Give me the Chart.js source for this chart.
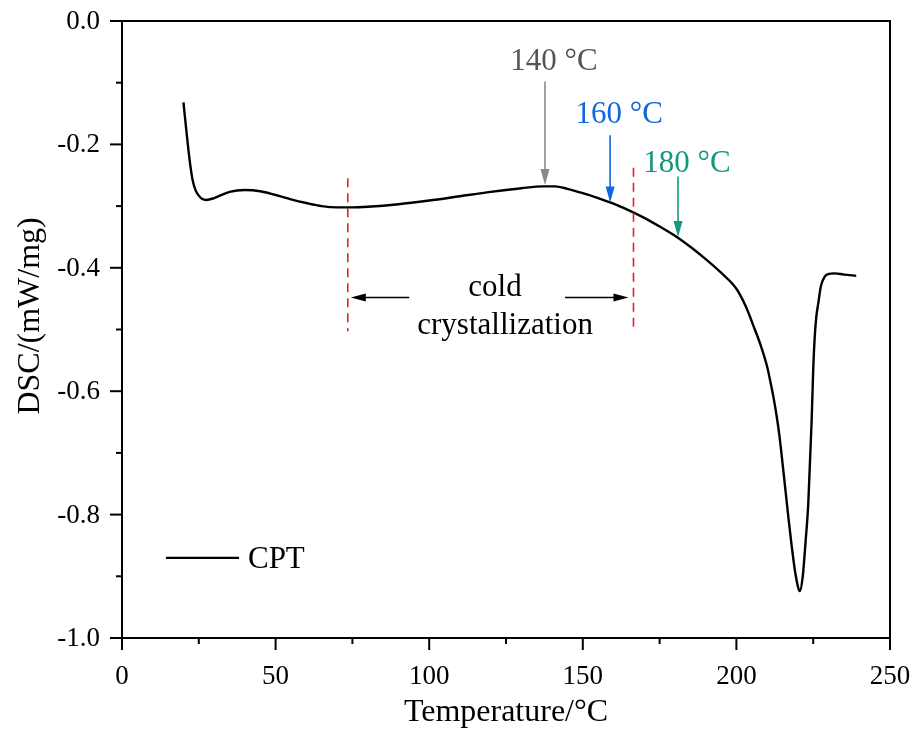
<!DOCTYPE html>
<html>
<head>
<meta charset="utf-8">
<script src="https://cdn.jsdelivr.net/npm/chart.js@4.4.1/dist/chart.umd.min.js"></script>
<style>
  html, body { margin: 0; padding: 0; background: #fff; }
  #wrap { width: 914px; height: 733px; }
</style>
</head>
<body>
<div id="wrap"><canvas id="dsc"></canvas></div>
<script>
// DSC heating curve of CPT
const temps = [20, 21, 22, 23, 24, 25, 26, 27.5, 30, 35, 40, 45, 50, 55, 60, 65, 70, 75, 80, 90,
  100, 110, 120, 130, 137, 141, 145, 150, 155, 160, 165, 170, 175, 180, 185, 190, 195, 200, 203,
  206, 208, 210, 211, 212, 213, 214, 215, 216, 217, 218, 219, 220, 220.6, 221.6, 222.5, 223.4,
  224.5, 225, 225.5, 226, 226.7, 227.5, 228.8, 230, 232, 235, 239];
const dsc = [-0.132, -0.180, -0.225, -0.258, -0.275, -0.283, -0.288, -0.290, -0.287, -0.277, -0.274,
  -0.276, -0.282, -0.289, -0.295, -0.300, -0.302, -0.302, -0.301, -0.297, -0.291, -0.284, -0.277,
  -0.271, -0.268, -0.268, -0.272, -0.279, -0.287, -0.296, -0.307, -0.319, -0.333, -0.348, -0.366,
  -0.386, -0.408, -0.434, -0.462, -0.500, -0.527, -0.560, -0.583, -0.608, -0.637, -0.672, -0.716,
  -0.762, -0.808, -0.851, -0.889, -0.916, -0.924, -0.900, -0.845, -0.782, -0.647, -0.566, -0.512,
  -0.480, -0.456, -0.430, -0.414, -0.410, -0.409, -0.411, -0.413];

// axis tick labels
const xTickLabels = [0, 50, 100, 150, 200, 250];
const yTickLabels = [0, -0.2, -0.4, -0.6, -0.8, -1.0];

// marked temperatures: label, arrow x, arrow tail / tip, text baseline, colours
const markLabels = ['140 °C', '160 °C', '180 °C'];
const markX = [137.7, 158.9, 181.0];
const markTail = [-0.098, -0.185, -0.252];
const markTip = [-0.266, -0.294, -0.350];
const markText = [-0.080, -0.165, -0.244];
const markTextColor = ['#555555', '#1167dc', '#13977d'];
const markArrowColor = ['#8a8a8a', '#1167dc', '#13977d'];

// cold crystallization window
const coldRange = [73.5, 166.5];
const coldLineTop = [-0.255, -0.238];
const coldLineBottom = -0.503;

const serif = "'Liberation Serif', 'Times New Roman', serif";

function arrowV(ctx, x, y0, y1, color) {
  ctx.strokeStyle = color;
  ctx.fillStyle = color;
  ctx.lineWidth = 1.6;
  ctx.beginPath();
  ctx.moveTo(x, y0);
  ctx.lineTo(x, y1 - 14);
  ctx.stroke();
  ctx.beginPath();
  ctx.moveTo(x, y1);
  ctx.lineTo(x - 4.5, y1 - 16);
  ctx.lineTo(x + 4.5, y1 - 16);
  ctx.closePath();
  ctx.fill();
}

function arrowH(ctx, x0, x1, y, color) {
  const dir = x1 > x0 ? 1 : -1;
  ctx.strokeStyle = color;
  ctx.fillStyle = color;
  ctx.lineWidth = 1.5;
  ctx.beginPath();
  ctx.moveTo(x0, y);
  ctx.lineTo(x1 - dir * 12, y);
  ctx.stroke();
  ctx.beginPath();
  ctx.moveTo(x1, y);
  ctx.lineTo(x1 - dir * 15, y - 4);
  ctx.lineTo(x1 - dir * 15, y + 4);
  ctx.closePath();
  ctx.fill();
}

const decor = {
  id: 'decor',
  afterDatasetsDraw(chart) {
    const { ctx, chartArea: a, scales: { x, y } } = chart;
    ctx.save();

    // frame
    ctx.strokeStyle = '#000';
    ctx.lineWidth = 2;
    ctx.strokeRect(a.left, a.top, a.right - a.left, a.bottom - a.top);

    // outward ticks, major + minor
    for (let v = 0; v <= 250; v += 25) {
      const px = x.getPixelForValue(v);
      const len = v % 50 === 0 ? 12 : 6;
      ctx.beginPath();
      ctx.moveTo(px, a.bottom);
      ctx.lineTo(px, a.bottom + len);
      ctx.stroke();
    }
    for (let i = 0; i <= 10; i++) {
      const py = y.getPixelForValue(-i / 10);
      const len = i % 2 === 0 ? 12 : 6;
      ctx.beginPath();
      ctx.moveTo(a.left, py);
      ctx.lineTo(a.left - len, py);
      ctx.stroke();
    }

    // tick labels
    ctx.fillStyle = '#000';
    ctx.font = '27px ' + serif;
    ctx.textAlign = 'center';
    ctx.textBaseline = 'alphabetic';
    xTickLabels.forEach(v => ctx.fillText(String(v), x.getPixelForValue(v), a.bottom + 46));
    ctx.textAlign = 'right';
    ctx.textBaseline = 'middle';
    yTickLabels.forEach(v => ctx.fillText(v.toFixed(1), a.left - 22, y.getPixelForValue(v) + 1));

    // axis titles
    ctx.font = '32px ' + serif;
    ctx.textAlign = 'center';
    ctx.textBaseline = 'alphabetic';
    ctx.fillText('Temperature/°C', x.getPixelForValue(125), a.bottom + 83);
    ctx.save();
    ctx.translate(a.left - 83, y.getPixelForValue(-0.478));
    ctx.rotate(-Math.PI / 2);
    ctx.fillText('DSC/(mW/mg)', 0, 0);
    ctx.restore();

    // dashed boundaries of the cold crystallization range
    ctx.strokeStyle = '#ee1c25';
    ctx.lineWidth = 1.6;
    ctx.setLineDash([9, 6]);
    coldRange.forEach((t, i) => {
      const px = x.getPixelForValue(t);
      ctx.beginPath();
      ctx.moveTo(px, y.getPixelForValue(coldLineTop[i]));
      ctx.lineTo(px, y.getPixelForValue(coldLineBottom));
      ctx.stroke();
    });
    ctx.setLineDash([]);

    const ay = y.getPixelForValue(-0.448);
    arrowH(ctx, x.getPixelForValue(93.5), x.getPixelForValue(coldRange[0]) + 3, ay, '#000');
    arrowH(ctx, x.getPixelForValue(144.2), x.getPixelForValue(coldRange[1]) - 5, ay, '#000');

    ctx.fillStyle = '#000';
    ctx.font = '31px ' + serif;
    ctx.textAlign = 'center';
    ctx.textBaseline = 'alphabetic';
    ctx.fillText('cold', x.getPixelForValue(121.4), y.getPixelForValue(-0.4457));
    ctx.fillText('crystallization', x.getPixelForValue(124.7), y.getPixelForValue(-0.5073));

    // temperature markers
    markLabels.forEach((lab, i) => {
      const px = x.getPixelForValue(markX[i]);
      arrowV(ctx, px, y.getPixelForValue(markTail[i]), y.getPixelForValue(markTip[i]), markArrowColor[i]);
      ctx.fillStyle = markTextColor[i];
      ctx.font = '31px ' + serif;
      ctx.textAlign = 'center';
      ctx.fillText(lab, px + 9, y.getPixelForValue(markText[i]));
    });

    // legend
    const ly = y.getPixelForValue(-0.870);
    ctx.strokeStyle = '#000';
    ctx.lineWidth = 2.2;
    ctx.beginPath();
    ctx.moveTo(x.getPixelForValue(14.3), ly);
    ctx.lineTo(x.getPixelForValue(38.1), ly);
    ctx.stroke();
    ctx.fillStyle = '#000';
    ctx.font = '31px ' + serif;
    ctx.textAlign = 'left';
    ctx.fillText('CPT', x.getPixelForValue(41), y.getPixelForValue(-0.8865));

    ctx.restore();
  }
};

new Chart(document.getElementById('dsc').getContext('2d'), {
  type: 'line',
  data: {
    datasets: [{
      label: 'CPT',
      data: temps.map((t, i) => ({ x: t, y: dsc[i] })),
      borderColor: '#000',
      borderWidth: 2.4,
      pointRadius: 0,
      fill: false,
      cubicInterpolationMode: 'monotone'
    }]
  },
  options: {
    responsive: true,
    maintainAspectRatio: false,
    animation: false,
    layout: { padding: { top: 21, right: 24, left: 0, bottom: 0 } },
    plugins: { legend: { display: false }, tooltip: { enabled: false } },
    scales: {
      x: {
        type: 'linear',
        min: 0, max: 250,
        grid: { display: false },
        border: { display: false },
        ticks: { display: false },
        afterFit: s => { s.height = 95; }
      },
      y: {
        min: -1.0, max: 0,
        grid: { display: false },
        border: { display: false },
        ticks: { display: false },
        afterFit: s => { s.width = 122; }
      }
    }
  },
  plugins: [decor]
});
</script>
</body>
</html>
